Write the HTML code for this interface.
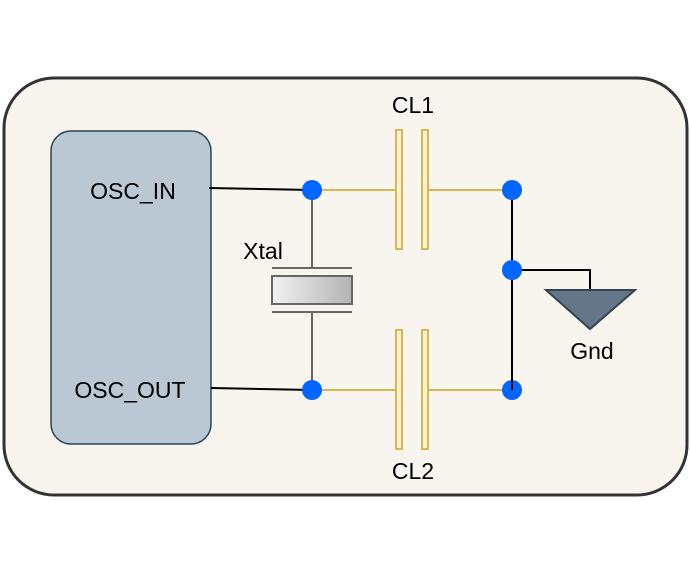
<!DOCTYPE html>
<html><head><style>body{margin:0;background:#fff}svg{display:block}</style></head><body>
<svg width="690" height="574" viewBox="0 0 690 574" xmlns="http://www.w3.org/2000/svg" font-family="Liberation Sans, sans-serif">
<defs><linearGradient id="g" x1="0" x2="1"><stop offset="0" stop-color="#f2f2f2"/><stop offset="1" stop-color="#b3b3b3"/></linearGradient></defs>
<rect x="4" y="78" width="683" height="417" rx="50" fill="#f8f5ee" stroke="#333" stroke-width="3"/>
<rect x="51" y="131" width="160" height="313" rx="20" fill="#bac8d3" stroke="#23445d" stroke-width="1.5"/>
<text x="133" y="199" font-size="23" text-anchor="middle">OSC_IN</text>
<text x="130" y="398" font-size="23" text-anchor="middle">OSC_OUT</text>
<g stroke="#000" stroke-width="2" fill="none">
<line x1="209" y1="188" x2="312" y2="190"/>
<line x1="211" y1="388" x2="312" y2="390"/>
<line x1="512" y1="190" x2="512" y2="390"/>
<polyline points="512,270 590,270 590,290"/>
</g>
<g stroke="#666" stroke-width="2" fill="none">
<line x1="312" y1="190" x2="312" y2="268"/>
<line x1="312" y1="312" x2="312" y2="390"/>
<line x1="272" y1="268" x2="352" y2="268"/>
<line x1="272" y1="312" x2="352" y2="312"/>
<rect x="272" y="276" width="80" height="28" fill="url(#g)"/>
</g>
<g stroke="#d6b656" stroke-width="2" fill="#fff2cc">
<line x1="312" y1="190" x2="396" y2="190"/><line x1="428" y1="190" x2="512" y2="190"/>
<line x1="312" y1="390" x2="396" y2="390"/><line x1="428" y1="390" x2="512" y2="390"/>
<rect x="396" y="130" width="6" height="119"/><rect x="422" y="130" width="6" height="119"/>
<rect x="396" y="330" width="6" height="119"/><rect x="422" y="330" width="6" height="119"/>
</g>
<polygon points="546,290 635,290 590,329" fill="#647687" stroke="#314354" stroke-width="2"/>
<g fill="#0066ff"><circle cx="312" cy="190" r="10"/><circle cx="312" cy="390" r="10"/><circle cx="512" cy="190" r="10"/><circle cx="512" cy="270" r="10"/><circle cx="512" cy="390" r="10"/></g>
<line x1="512" y1="380" x2="512" y2="390" stroke="#000" stroke-width="2"/>
<g font-size="23" text-anchor="middle">
<text x="413" y="113">CL1</text><text x="413" y="479">CL2</text>
<text x="263" y="259">Xtal</text><text x="592" y="359">Gnd</text>
</g>
</svg>
</body></html>
